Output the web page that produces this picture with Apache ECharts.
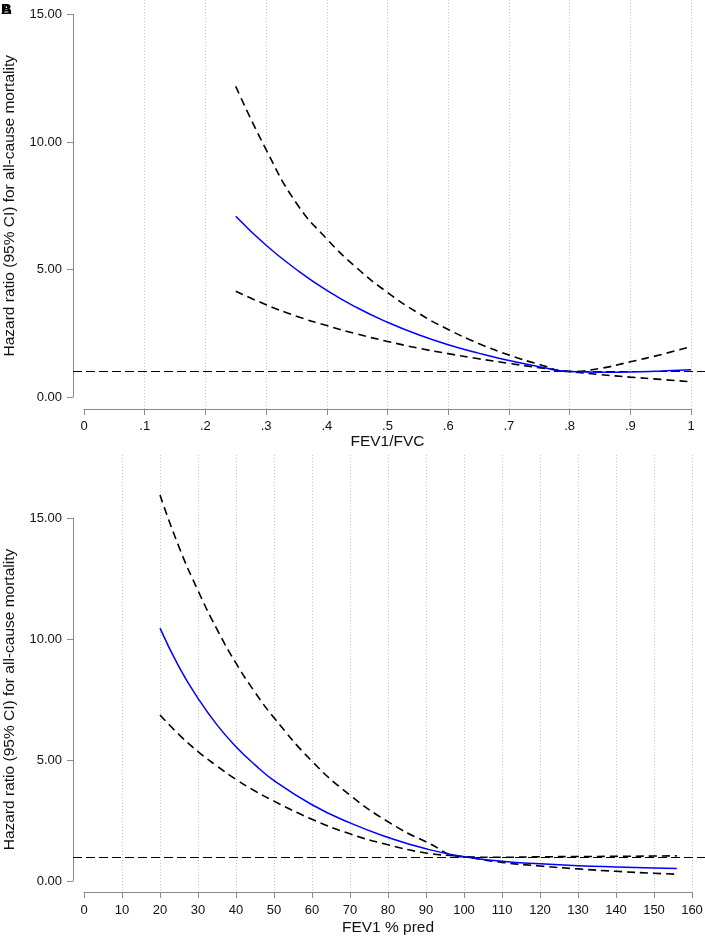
<!DOCTYPE html>
<html>
<head>
<meta charset="utf-8">
<script src="https://cdn.jsdelivr.net/npm/echarts@6/dist/echarts.min.js"></script>
<style>
html,body{margin:0;padding:0;background:#fff;}
#chart{width:705px;height:940px;}
</style>
</head>
<body>
<div id="chart"></div>
<script>
// ---- Panel A: FEV1/FVC ----
var topX     = [0.25, 0.30, 0.35, 0.40, 0.45, 0.50, 0.55, 0.60, 0.65, 0.70, 0.75, 0.80, 0.85, 0.90, 0.95, 1.00];
var topHR    = [7.09, 5.95, 5.00, 4.18, 3.50, 2.93, 2.45, 2.05, 1.72, 1.43, 1.19, 1.00, 0.97, 0.98, 1.02, 1.07];
var topUpper = [12.18, 9.70, 7.60, 6.20, 5.05, 4.10, 3.30, 2.65, 2.10, 1.65, 1.28, 1.00, 1.12, 1.38, 1.66, 1.98];
var topLower = [4.15, 3.62, 3.17, 2.80, 2.47, 2.18, 1.92, 1.70, 1.50, 1.32, 1.15, 1.00, 0.88, 0.78, 0.69, 0.60];
var topXTicks = ['0', '.1', '.2', '.3', '.4', '.5', '.6', '.7', '.8', '.9', '1'];

// ---- Panel B: FEV1 % pred ----
var botX     = [20, 25, 30, 35, 40, 45, 50, 60, 70, 80, 90, 100, 110, 120, 130, 140, 150, 156];
var botHR    = [10.45, 8.85, 7.55, 6.45, 5.55, 4.80, 4.15, 3.15, 2.40, 1.80, 1.33, 1.00, 0.82, 0.71, 0.63, 0.58, 0.54, 0.52];
var botUpper = [15.95, 13.80, 12.00, 10.40, 9.00, 7.80, 6.75, 4.95, 3.55, 2.45, 1.62, 1.00, 0.98, 1.00, 1.01, 1.02, 1.03, 1.04];
var botLower = [6.86, 6.05, 5.35, 4.75, 4.20, 3.72, 3.30, 2.55, 1.95, 1.50, 1.16, 1.00, 0.77, 0.62, 0.50, 0.40, 0.32, 0.28];
var botXTicks = ['0','10','20','30','40','50','60','70','80','90','100','110','120','130','140','150','160'];

var yTicks = ['0.00', '5.00', '10.00', '15.00'];
var refHR = 1;
var yTitle = 'Hazard ratio (95% CI) for all-cause mortality';
var panelLetters = ['A', 'B'];

function zip(xs, ys) { return xs.map(function (x, i) { return [x, ys[i]]; }); }

var FONT = '"Liberation Sans", Arial, Helvetica, sans-serif';
var AXIS_GREY = '#8a8a8a';
var TXT = '#111';

function mainX(grid, min, max, interval, ticks, name, labelMargin, nameGap) {
  return {
    gridIndex: grid, type: 'value', min: min, max: max, interval: interval,
    offset: grid === 0 ? 12 : 11,
    axisLine: { show: true, onZero: false, lineStyle: { color: AXIS_GREY, width: 1 } },
    axisTick: { show: true, length: 6, lineStyle: { color: AXIS_GREY } },
    axisLabel: {
      color: TXT, fontFamily: FONT, fontSize: 13, margin: labelMargin,
      formatter: function (v) { return ticks[Math.round((v - min) / interval)]; }
    },
    splitLine: { show: false },
    name: name, nameLocation: 'middle', nameGap: nameGap,
    nameTextStyle: { color: TXT, fontFamily: FONT, fontSize: 15.5 }
  };
}
function gridX(grid, min, max, interval) {
  return {
    gridIndex: grid, type: 'value', min: min, max: max, interval: interval,
    axisLine: { show: false }, axisTick: { show: false }, axisLabel: { show: false },
    splitLine: { show: true, showMinLine: false, showMaxLine: true,
      lineStyle: { color: '#c4c4c4', type: [1, 2], width: 1 } }
  };
}
function hiddenX(grid, min, max) {
  return { gridIndex: grid, type: 'value', min: min, max: max, show: false, splitLine: { show: false } };
}
function mainY(grid) {
  return {
    gridIndex: grid, type: 'value', min: 0, max: 15, interval: 5, offset: 11,
    axisLine: { show: true, onZero: false, lineStyle: { color: AXIS_GREY, width: 1 } },
    axisTick: { show: true, length: 6, lineStyle: { color: AXIS_GREY } },
    axisLabel: {
      color: TXT, fontFamily: FONT, fontSize: 13, margin: 11,
      formatter: function (v) { return yTicks[Math.round(v / 5)]; }
    },
    splitLine: { show: false },
    name: yTitle, nameLocation: 'middle', nameGap: 55, nameRotate: 90,
    nameTextStyle: { color: TXT, fontFamily: FONT, fontSize: 15.5 }
  };
}
function hiddenY(grid, min, max) {
  return { gridIndex: grid, type: 'value', min: min, max: max, show: false, splitLine: { show: false } };
}

function curve(xi, yi, data, color, dashed) {
  return {
    type: 'line', xAxisIndex: xi, yAxisIndex: yi, data: data, smooth: true,
    symbol: 'none', clip: false, silent: true, z: 5,
    lineStyle: { color: color, width: dashed ? 1.6 : 1.5, type: dashed ? [8, 5] : 'solid' }
  };
}
function refLine(xi, yi) {
  return {
    type: 'line', xAxisIndex: xi, yAxisIndex: yi, data: [], silent: true, z: 4,
    markLine: {
      symbol: 'none', silent: true, label: { show: false },
      lineStyle: { color: '#000', type: [9, 4], width: 1.2 },
      data: [{ yAxis: refHR }]
    }
  };
}
function g(left, width, top, height) {
  return { left: left, width: width, top: top, height: height, containLabel: false, outerBoundsMode: 'none' };
}

var option = {
  animation: false,
  backgroundColor: '#fff',
  grid: [
    g(84, 607, 14.5, 382.5),   // 0 top main
    g(84, 607, 0, 409),        // 1 top dotted grid
    g(73, 632, 14.5, 382.5),   // 2 top reference line
    g(84, 608, 518, 363),      // 3 bottom main
    g(84, 608, 455, 437),      // 4 bottom dotted grid
    g(73, 632, 518, 363)       // 5 bottom reference line
  ],
  xAxis: [
    mainX(0, 0, 1, 0.1, topXTicks, 'FEV1/FVC', 11, 25),
    gridX(1, 0, 1, 0.1),
    hiddenX(2, 0, 1),
    mainX(3, 0, 160, 10, botXTicks, 'FEV1 % pred', 12, 28),
    gridX(4, 0, 160, 10),
    hiddenX(5, 0, 1)
  ],
  yAxis: [
    mainY(0), hiddenY(1, 0, 1), hiddenY(2, 0, 15),
    mainY(3), hiddenY(4, 0, 1), hiddenY(5, 0, 15)
  ],
  series: [
    refLine(2, 2),
    curve(0, 0, zip(topX, topUpper), '#000', true),
    curve(0, 0, zip(topX, topLower), '#000', true),
    curve(0, 0, zip(topX, topHR), '#0000ff', false),
    refLine(5, 5),
    curve(3, 3, zip(botX, botUpper), '#000', true),
    curve(3, 3, zip(botX, botLower), '#000', true),
    curve(3, 3, zip(botX, botHR), '#0000ff', false)
  ],
  graphic: panelLetters.map(function (t) {
    return { type: 'text', left: 1, top: 2, z: 10,
      style: { text: t, font: 'bold 15px ' + FONT, fill: '#000' } };
  })
};

var chart = echarts.init(document.getElementById('chart'), null, { renderer: 'canvas' });
chart.setOption(option);
</script>
</body>
</html>
